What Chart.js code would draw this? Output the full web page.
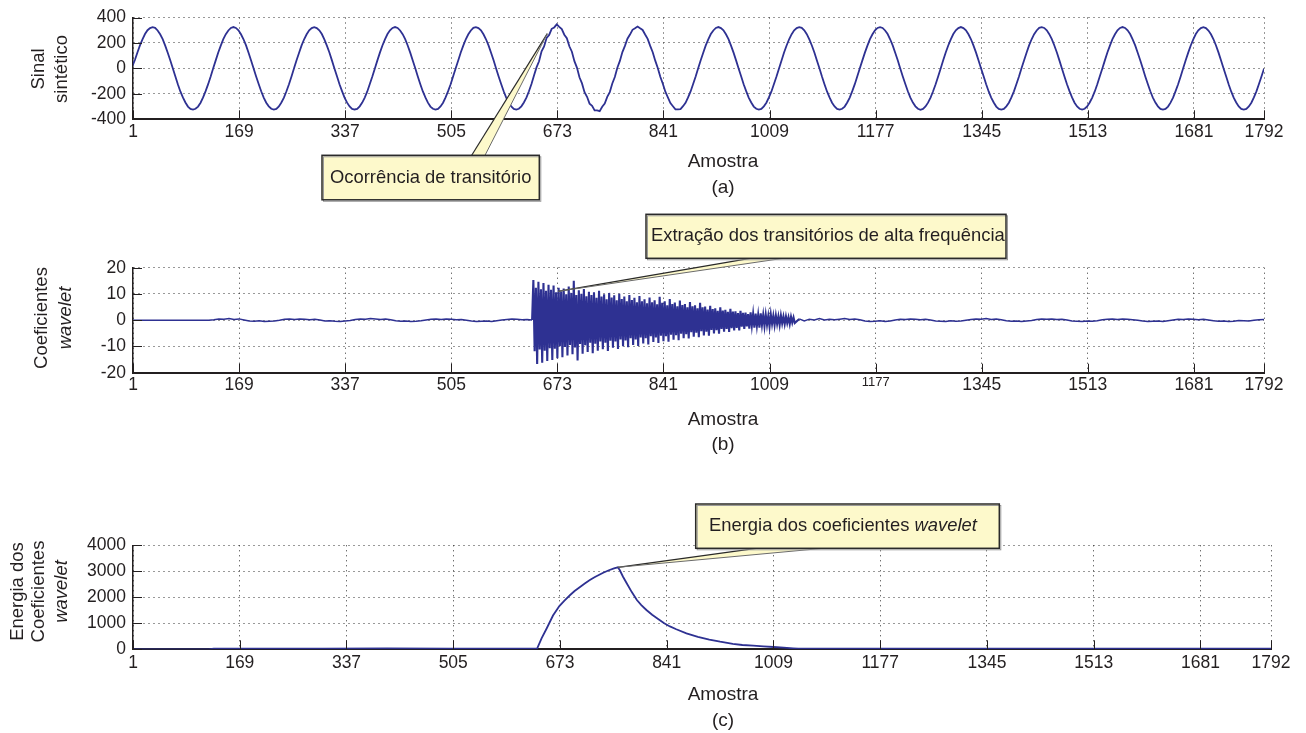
<!DOCTYPE html>
<html>
<head>
<meta charset="utf-8">
<script src="https://cdn.jsdelivr.net/npm/chart.js@4.4.0/dist/chart.umd.min.js"></script>
<style>
  html, body { margin: 0; padding: 0; background: #ffffff; }
  #wrap { position: relative; width: 1306px; height: 733px; overflow: hidden; background: #fff; }
  #wrap canvas { position: absolute; left: 0; }
</style>
</head>
<body>
<div id="wrap">
  <canvas id="cA" width="1306" height="205" style="top:0px"></canvas>
  <canvas id="cB" width="1306" height="260" style="top:200px"></canvas>
  <canvas id="cC" width="1306" height="273" style="top:460px"></canvas>
</div>
<script>
// ---------------- DATA ----------------
const xTickValues = [1, 169, 337, 505, 673, 841, 1009, 1177, 1345, 1513, 1681, 1792];
const signalTicks = [-400, -200, 0, 200, 400];
const coefTicks = [-20, -10, 0, 10, 20];
const energyTicks = [0, 1000, 2000, 3000, 4000];

// (a) Sinal sintético — one value every 4 samples, starting at sample 0
const signalStart = 0, signalStep = 4;
const signalValues = [
  18, 66, 125, 181, 228, 270, 300, 317, 324, 319, 298, 268, 230, 179, 123, 64, 1, -61, -125, -181, -228, -268, -300, -318, -323, -317, -300, -270, -228, -179, -124, -64,
  2, 63, 125, 179, 230, 269, 298, 318, 325, 318, 300, 268, 229, 181, 123, 62, -1, -64, -123, -180, -229, -270, -298, -317, -324, -318, -299, -268, -230, -180, -125, -63,
  1, 64, 123, 181, 229, 268, 300, 317, 324, 317, 299, 270, 228, 179, 125, 63, 0, -62, -125, -179, -230, -269, -299, -318, -323, -319, -298, -269, -229, -181, -123, -64,
  0, 63, 124, 180, 228, 270, 299, 318, 325, 318, 298, 269, 230, 180, 124, 62, 1, -63, -124, -181, -228, -269, -300, -317, -324, -318, -299, -270, -228, -179, -125, -62,
  1, 62, 125, 179, 229, 268, 298, 319, 324, 317, 300, 268, 229, 181, 123, 64, 0, -63, -123, -180, -229, -270, -299, -318, -323, -317, -298, -268, -230, -180, -122, -55,
  8, 56, 134, 172, 240, 263, 311, 322, 346, 326, 309, 265, 237, 174, 131, 57, 6, -70, -118, -187, -223, -277, -294, -330, -330, -336, -301, -277, -224, -186, -119, -68,
  5, 59, 128, 177, 233, 266, 303, 315, 329, 315, 302, 266, 232, 177, 127, 61, 3, -66, -121, -183, -227, -272, -297, -321, -322, -320, -297, -271, -228, -181, -123, -64,
  1, 64, 123, 181, 228, 270, 298, 318, 325, 317, 300, 268, 230, 179, 124, 63, -1, -62, -125, -179, -229, -268, -300, -317, -324, -318, -298, -270, -228, -181, -123, -64,
  0, 62, 125, 180, 229, 269, 299, 317, 324, 319, 299, 269, 228, 180, 125, 62, 1, -64, -124, -181, -228, -270, -299, -318, -323, -317, -300, -268, -229, -179, -124, -62,
  1, 63, 124, 179, 230, 268, 300, 318, 324, 318, 298, 270, 229, 181, 123, 64, 0, -63, -123, -180, -230, -269, -298, -317, -325, -318, -299, -269, -230, -180, -125, -63,
  0, 64, 125, 180, 228, 270, 299, 317, 325, 317, 299, 268, 229, 179, 124, 62, -1, -62, -124, -181, -229, -268, -300, -318, -323, -318, -298, -270, -228, -180, -123, -64,
  1, 62, 123, 181, 229, 269, 298, 319, 324, 318, 300, 269, 230, 180, 125, 63, 0, -64, -125, -179, -228, -270, -299, -317, -324, -317, -299, -268, -229, -181, -124, -62,
  0, 63, 125, 179, 230, 268, 300, 318, 325, 318, 299, 270, 228, 181, 123, 64, 1, -63, -123, -180, -229, -269, -298, -318, -324, -319, -300, -269, -230, -179, -125, -63,
  1, 64, 124, 180, 228, 270, 299, 317, 324, 317, 298, 268, 229, 180, 124, 62, 0, -62, -124, -181, -230, -268, -299, -318, -323, -318, -299, -270, -228, -180, -123, -64,
  -2
];

// (b) Coeficientes wavelet
const coefPreStart = 1, coefPreStep = 8;        // samples 1..633
const coefPre = [
  0, 0, 0, 0, 0, 0, 0, 0, 0, 0, 0, 0, 0, 0, 0, 0,
  0.2, 0.5, 0.4, 0.6, 0.3, 0.5, 0.1, -0.3,
  -0.4, -0.2, -0.5, -0.4, -0.3, 0.0, 0.4, 0.5,
  0.3, 0.5, 0.4, 0.2, 0.4, 0.1, -0.3, -0.2,
  -0.4, -0.5, -0.3, -0.1, 0.3, 0.5, 0.4, 0.6,
  0.5, 0.3, 0.5, 0.2, -0.2, -0.4, -0.3, -0.5,
  -0.4, -0.2, 0.1, 0.4, 0.5, 0.3, 0.5, 0.4,
  0.2, 0.3, 0.0, -0.3, -0.5, -0.4, -0.3, -0.5,
  -0.2, 0.1, 0.3, 0.5, 0.4, 0.2, 0.3, 0.1
];
const coefBurstStart = 635, coefBurstStep = 2;  // samples 635..1049
const coefBurst = [
  15.3, -11.8, 12.4, -16.7,  14.6, -11.2, 11.8, -16.2,  14.2, -11.6, 11.2, -15.5,  13.5, -10.7, 11.6, -15.2,
  13.2, -10.9, 10.6, -14.5,  12.4, -9.9, 10.9, -14.1,   12.1, -10.2, 9.9, -13.4,   12.8, -9.4, 10.4, -13.0,
  15.0, -10.4, 9.6, -15.3,   11.4, -9.1, 10.1, -12.8,   11.9, -9.5, 9.1, -12.1,    10.8, -8.6, 9.6, -12.6,
  10.6, -9.0, 8.5, -11.6,    11.2, -8.1, 9.0, -11.1,    9.9, -8.6, 8.0, -11.7,     10.4, -7.8, 8.6, -10.5,
  9.5, -8.1, 7.6, -11.0,     10.1, -7.3, 8.1, -9.9,     9.0, -7.7, 7.2, -10.3,     9.6, -6.9, 7.7, -9.4,
  8.5, -7.3, 6.8, -9.8,      9.2, -6.6, 7.2, -8.9,      8.0, -6.9, 6.4, -9.2,      8.6, -6.1, 6.8, -8.3,
  7.6, -6.6, 6.1, -8.7,      8.9, -5.9, 6.6, -8.0,      7.2, -6.1, 5.7, -8.2,      8.1, -5.5, 6.2, -7.4,
  6.7, -5.7, 5.3, -7.6,      7.5, -5.1, 5.8, -6.9,      6.2, -5.3, 4.9, -7.0,      6.9, -4.6, 5.3, -6.3,
  5.7, -4.8, 4.5, -6.5,      6.6, -4.2, 4.9, -5.8,      5.2, -4.4, 4.1, -5.9,      5.5, -3.7, 4.2, -5.0,
  4.5, -3.8, 3.6, -5.1,      4.9, -3.3, 3.7, -4.4,      4.0, -3.3, 3.2, -4.5,      4.3, -3.0, 3.3, -3.9,
  3.4, -2.9, 2.7, -3.9,      3.6, -2.5, 2.8, -3.3,      2.9, -2.4, 2.3, -3.2,      3.0, -2.0, 2.4, -2.8,
  2.5, -2.1, 2.0, -2.8,      2.6, -1.8, 2.0, -2.3,      2.1, -1.7, 1.6, -2.4,      2.2, -1.4, 1.7, -1.9,
  1.8, -1.4, 1.4, -1.9,      1.8, -1.2, 1.4, -1.5,      1.4, -1.1, 1.1, -1.5,      1.3, -0.9, 1.0, -1.1
];
const coefPostStart = 1056, coefPostStep = 8;   // samples 1056..1792
const coefPost = [
  0.5, -0.3, 0.4, 0.1, 0.6, 0.1, 0.4, 0.2,
  0.4, 0.6, 0.3, 0.5, 0.2, -0.3, -0.5, -0.4,
  -0.2, -0.5, -0.3, 0.1, 0.4, 0.3, 0.5, 0.4,
  0.2, 0.4, 0.1, -0.3, -0.4, -0.5, -0.2, -0.4,
  -0.3, 0.0, 0.3, 0.5, 0.4, 0.6, 0.3, 0.5,
  0.2, -0.2, -0.4, -0.3, -0.5, -0.3, -0.1, 0.3,
  0.5, 0.4, 0.5, 0.3, 0.4, 0.1, -0.3, -0.4,
  -0.5, -0.3, -0.4, -0.2, 0.2, 0.4, 0.5, 0.3,
  0.5, 0.4, 0.2, 0.0, -0.3, -0.5, -0.4, -0.3,
  -0.5, -0.2, 0.1, 0.4, 0.3, 0.5, 0.4, 0.2,
  0.4, 0.1, -0.2, -0.4, -0.3, -0.5, -0.4, -0.1,
  -0.2, -0.3, 0.0, 0.2, 0.3
];

// (c) Energia dos coeficientes wavelet
const energySamples = [0, 120, 128, 200, 300, 400, 500, 600, 632, 637,
  644, 652, 662, 672, 680, 689, 696, 704, 712, 720,
  728, 741, 750, 758, 764, 767, 772, 778, 786, 794,
  801, 809, 818, 828, 837, 846, 856, 872, 890, 908,
  925, 945, 960, 977, 993, 1009, 1025, 1040, 1048, 1100,
  1200, 1300, 1400, 1500, 1600, 1700, 1792];
const energyValues = [0, 0, 25, 28, 24, 30, 26, 29, 27, 25,
  420, 800, 1300, 1665, 1870, 2088, 2240, 2385, 2530, 2665,
  2780, 2946, 3040, 3115, 3154, 3050, 2800, 2538, 2200, 1896,
  1700, 1512, 1330, 1160, 1000, 880, 770, 615, 480, 375,
  292, 210, 165, 138, 110, 88, 62, 38, 25, 24,
  26, 23, 25, 24, 26, 25, 24];

// ---------------- STYLE ----------------
const FONT = '"Liberation Sans", Arial, Helvetica, sans-serif';
const TEXT = '#231f20';
const LINE = '#2e3192';
const GRID = '#333333';
const BOX_FILL = '#fdf9cb';

function seq(start, step, values) {
  return values.map((v, i) => ({ x: start + i * step, y: v }));
}

function xScale(scaleHeight, pad, smallTick) {
  return {
    type: 'linear', min: 1, max: 1792,
    afterBuildTicks: s => { s.ticks = xTickValues.map(v => ({ value: v })); },
    afterFit: s => { s.height = scaleHeight; },
    grid: { color: GRID, lineWidth: 1, drawTicks: false },
    border: { display: true, color: TEXT, width: 2, dash: [1, 4] },
    ticks: {
      color: TEXT, padding: pad, autoSkip: false, maxRotation: 0, minRotation: 0,
      font: ctx => ({ family: FONT, size: (smallTick && ctx.tick && ctx.tick.value === smallTick) ? 13 : 17.5 }),
      callback: v => String(v)
    }
  };
}
function yScale(min, max, tickVals) {
  return {
    type: 'linear', min: min, max: max,
    afterBuildTicks: s => { s.ticks = tickVals.map(v => ({ value: v })); },
    afterFit: s => { s.width = 133; },
    grid: { color: GRID, lineWidth: 1, drawTicks: false },
    border: { display: true, color: TEXT, width: 1.5, dash: [1, 4] },
    ticks: { color: TEXT, padding: 7, font: { family: FONT, size: 17.5 }, callback: v => String(v) }
  };
}

const inwardTicks = {
  id: 'inwardTicks',
  afterDatasetsDraw(chart) {
    const { ctx, chartArea: a, scales: { x, y } } = chart;
    ctx.save();
    ctx.strokeStyle = TEXT; ctx.lineWidth = 1;
    ctx.beginPath();
    x.ticks.forEach(t => {
      const px = Math.round(x.getPixelForValue(t.value)) + 0.5;
      ctx.moveTo(px, a.bottom); ctx.lineTo(px, a.bottom - 9);
    });
    y.ticks.forEach(t => {
      const py = Math.round(y.getPixelForValue(t.value)) + 0.5;
      ctx.moveTo(a.left, py); ctx.lineTo(a.left + 9, py);
    });
    ctx.stroke();
    ctx.restore();
  }
};

const labelsPlugin = {
  id: 'labels',
  afterDraw(chart, args, o) {
    const ctx = chart.ctx;
    ctx.save();
    ctx.fillStyle = TEXT;
    ctx.textAlign = 'center';
    ctx.textBaseline = 'middle';
    (o.yTitle || []).forEach(l => {
      ctx.save();
      ctx.translate(l.x, o.yTitleY);
      ctx.rotate(-Math.PI / 2);
      ctx.font = (l.italic ? 'italic ' : '') + '18.5px ' + FONT;
      ctx.fillText(l.t, 0, 0);
      ctx.restore();
    });
    ctx.font = '19px ' + FONT;
    (o.xTitle || []).forEach(l => ctx.fillText(l.t, o.xTitleX, l.y));
    ctx.restore();
  }
};

const calloutPlugin = {
  id: 'callout',
  afterDraw(chart, args, o) {
    if (!o.box) return;
    const ctx = chart.ctx;
    const tx = chart.scales.x.getPixelForValue(o.tip[0]);
    const ty = chart.scales.y.getPixelForValue(o.tip[1]);
    const b0 = o.base[0], b1 = o.base[1];
    ctx.save();
    // pointer wedge
    ctx.beginPath();
    ctx.moveTo(b0[0], b0[1]); ctx.lineTo(tx, ty); ctx.lineTo(b1[0], b1[1]); ctx.closePath();
    ctx.fillStyle = BOX_FILL; ctx.fill();
    ctx.strokeStyle = '#2a2a2a'; ctx.lineWidth = 1.2;
    ctx.beginPath(); ctx.moveTo(b0[0], b0[1]); ctx.lineTo(tx, ty); ctx.stroke();
    ctx.strokeStyle = '#6a6a6a'; ctx.lineWidth = 1;
    ctx.beginPath(); ctx.moveTo(b1[0], b1[1]); ctx.lineTo(tx, ty); ctx.stroke();
    // box
    const [bx, by, bw, bh] = o.box;
    ctx.fillStyle = BOX_FILL;
    ctx.fillRect(bx, by, bw, bh);
    ctx.strokeStyle = '#9a9a9a'; ctx.lineWidth = 1;
    ctx.strokeRect(bx + 1.5, by + 1.5, bw, bh);
    ctx.strokeStyle = '#2a2a2a'; ctx.lineWidth = 1.5;
    ctx.strokeRect(bx, by, bw, bh);
    // text
    ctx.fillStyle = TEXT;
    ctx.textBaseline = 'middle';
    ctx.textAlign = 'left';
    let x = o.textX;
    o.text.forEach(seg => {
      ctx.font = (seg.italic ? 'italic ' : '') + '18.4px ' + FONT;
      ctx.fillText(seg.t, x, by + bh / 2);
      x += ctx.measureText(seg.t).width;
    });
    ctx.restore();
  }
};

function makeChart(id, cfg) {
  return new Chart(document.getElementById(id), {
    type: 'line',
    data: { datasets: cfg.series.map(s => ({
      data: s.data, borderColor: LINE, borderWidth: s.width,
      pointRadius: 0, tension: 0, fill: false, borderJoinStyle: 'miter'
    })) },
    options: {
      responsive: false, animation: false, devicePixelRatio: 1,
      parsing: false, normalized: true,
      layout: { padding: { top: cfg.top, right: cfg.right, bottom: 0, left: 0 } },
      scales: { x: cfg.x, y: cfg.y },
      plugins: {
        legend: { display: false }, tooltip: { enabled: false }, title: { display: false },
        labels: cfg.labels,
        callout: cfg.callout
      }
    },
    plugins: [inwardTicks, labelsPlugin, calloutPlugin]
  });
}

// (a)
makeChart('cA', {
  series: [{ data: seq(signalStart, signalStep, signalValues), width: 1.8 }],
  top: 15.3, right: 42,
  x: xScale(205 - 119.3, 2, null),
  y: yScale(-400, 400, signalTicks),
  labels: {
    yTitle: [{ t: 'Sinal', x: 39 }, { t: 'sintético', x: 62 }], yTitleY: 69,
    xTitleX: 723, xTitle: [{ t: 'Amostra', y: 162 }, { t: '(a)', y: 188 }]
  },
  callout: {
    box: [322, 155.3, 217.3, 44.5], textX: 330,
    text: [{ t: 'Ocorrência de transitório' }],
    base: [[471.7, 155.3], [485, 155.3]], tip: [657, 273]
  }
});

// (b)
const prePts = seq(coefPreStart, coefPreStep, coefPre);
const burstPts = seq(coefBurstStart, coefBurstStep, coefBurst);
const postPts = seq(coefPostStart, coefPostStep, coefPost);
makeChart('cB', {
  series: [
    { data: prePts, width: 1.5 },
    { data: [prePts[prePts.length - 1]].concat(burstPts, [postPts[0]]), width: 2.1 },
    { data: postPts, width: 1.5 }
  ],
  top: 67.7, right: 42,
  x: xScale(260 - 172.7, 2, 1177),
  y: yScale(-20, 20, coefTicks),
  labels: {
    yTitle: [{ t: 'Coeficientes', x: 42 }, { t: 'wavelet', x: 65.5, italic: true }], yTitleY: 118,
    xTitleX: 723, xTitle: [{ t: 'Amostra', y: 220 }, { t: '(b)', y: 245 }]
  },
  callout: {
    box: [646, 14.3, 360, 44], textX: 651,
    text: [{ t: 'Extração dos transitórios de alta frequência' }],
    base: [[750, 58.3], [783.3, 58.3]], tip: [674, 11]
  }
});

// (c)
makeChart('cC', {
  series: [{ data: energySamples.map((s, i) => ({ x: s, y: energyValues[i] })), width: 1.8 }],
  top: 85.3, right: 35,
  x: xScale(273 - 189.3, 3.5, null),
  y: yScale(0, 4000, energyTicks),
  labels: {
    yTitle: [{ t: 'Energia dos', x: 17.5 }, { t: 'Coeficientes', x: 39 }, { t: 'wavelet', x: 61.7, italic: true }], yTitleY: 131.5,
    xTitleX: 723, xTitle: [{ t: 'Amostra', y: 234.5 }, { t: '(c)', y: 260.5 }]
  },
  callout: {
    box: [695.7, 44, 303.6, 44.3], textX: 709,
    text: [{ t: 'Energia dos coeficientes ' }, { t: 'wavelet', italic: true }],
    base: [[756, 88.3], [823.3, 88.3]], tip: [764, 3154]
  }
});
</script>
</body>
</html>
